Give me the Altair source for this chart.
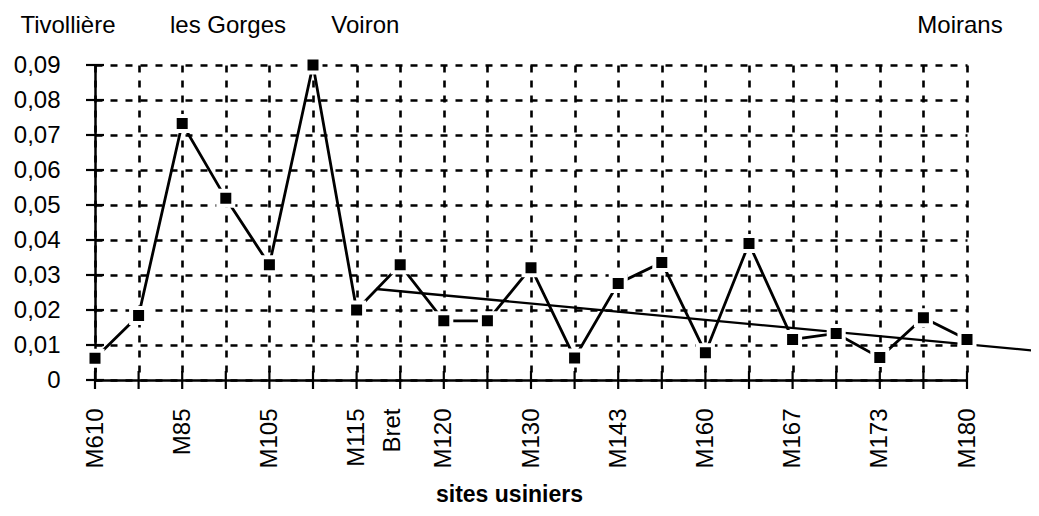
import json
import altair as alt
import pandas as pd

# ---- data ----
categories = ["M610", "", "M85", "", "M105", "", ["M115", "Bret"], "", "M120", "",
              "M130", "", "M143", "", "M160", "", "M167", "", "M173", "", "M180"]
values = [0.0062, 0.0184, 0.0733, 0.0519, 0.0329, 0.0900, 0.0200, 0.0329, 0.0169, 0.0169,
          0.0321, 0.0063, 0.0276, 0.0336, 0.0078, 0.0390, 0.0116, 0.0133, 0.0064, 0.0178, 0.0116]
trend_x = [6.45, 21.63]
trend_y = [0.0260, 0.0083]
place_names = ["Tivollière", "les Gorges", "Voiron", "Moirans"]
place_x = [-0.62, 3.05, 6.2, 19.84]
y_ticks = [0, 0.01, 0.02, 0.03, 0.04, 0.05, 0.06, 0.07, 0.08, 0.09]

FONT = "Liberation Sans"
n = len(values)
idx = list(range(n))

df = pd.DataFrame({"idx": idx, "val": values})
trend_df = pd.DataFrame({"idx": trend_x, "val": trend_y})
ann_df = pd.DataFrame({"idx": place_x, "name": place_names})
xt_df = pd.DataFrame({"idx": idx, "val": [0] * n})
yt_df = pd.DataFrame({"idx": [0] * len(y_ticks), "val": y_ticks})

xscale = alt.Scale(domain=[0, n - 1], nice=False, zero=False)
yscale = alt.Scale(domain=[0, 0.09], nice=False, zero=False)

label_expr = json.dumps(categories, ensure_ascii=False) + "[datum.value]"

GRID_DASH = [7, 8]
GRID_W = 2.6

x_axis = alt.Axis(
    values=idx, labelExpr=label_expr, grid=True, gridDash=GRID_DASH, gridColor="black",
    gridWidth=GRID_W, gridOpacity=1, domainColor="black", domainWidth=2.5, ticks=False, tickSize=0,
    labelAngle=270, labelAlign="right", labelBaseline="middle", labelPadding=28,
    labelFont=FONT, labelFontSize=24, labelColor="black", labelOverlap=False,
    labelFlush=False, labelBound=False, labelLineHeight=36,
    title="sites usiniers", titleFont=FONT, titleFontSize=23, titleFontWeight="bold",
    titleColor="black", titleX=414, titleY=121, titleAlign="center",
    titleBaseline="alphabetic",
)
y_axis = alt.Axis(
    values=y_ticks,
    labelExpr="datum.value == 0 ? '0' : replace(format(datum.value, '.2f'), '.', ',')",
    grid=True, gridDash=GRID_DASH, gridColor="black", gridWidth=GRID_W, gridOpacity=1,
    domainColor="black", domainWidth=2.5, ticks=False, tickSize=0, labelPadding=35,
    labelFont=FONT, labelFontSize=24, labelColor="black", labelOverlap=False,
    labelFlush=False, labelBound=False, title=None,
)

X = alt.X("idx:Q", scale=xscale, axis=x_axis)
Y = alt.Y("val:Q", scale=yscale, axis=y_axis)

line = alt.Chart(df).mark_line(color="black", strokeWidth=2.8).encode(x=X, y=Y)

trend = alt.Chart(trend_df).mark_line(color="black", strokeWidth=2.3, clip=False).encode(x=X, y=Y)

pts = alt.Chart(df).mark_point(
    shape="square", filled=True, fill="black", stroke="white", strokeWidth=4,
    size=225, opacity=1, strokeOpacity=1, fillOpacity=1,
).encode(x=X, y=Y)

xticks = alt.Chart(xt_df).mark_tick(
    orient="vertical", size=18, thickness=2.2, color="black", opacity=1
).encode(x=X, y=Y)
yticks = alt.Chart(yt_df).mark_tick(
    orient="horizontal", size=18, thickness=2.2, color="black", opacity=1
).encode(x=X, y=Y)

ann = alt.Chart(ann_df).mark_text(
    font=FONT, fontSize=24, color="black", align="center", baseline="alphabetic", clip=False
).encode(
    x=X,
    y=alt.value(-32),
    text="name:N",
)

chart = alt.layer(trend, line, xticks, yticks, pts, ann).properties(
    width=872, height=315,
    autosize=alt.AutoSizeParams(type="none"),
    padding={"left": 87, "top": 57, "right": 64, "bottom": 128},
    background="white",
).configure_view(stroke=None)

chart.save("out.html", embed_options={"renderer": "svg", "actions": False})
